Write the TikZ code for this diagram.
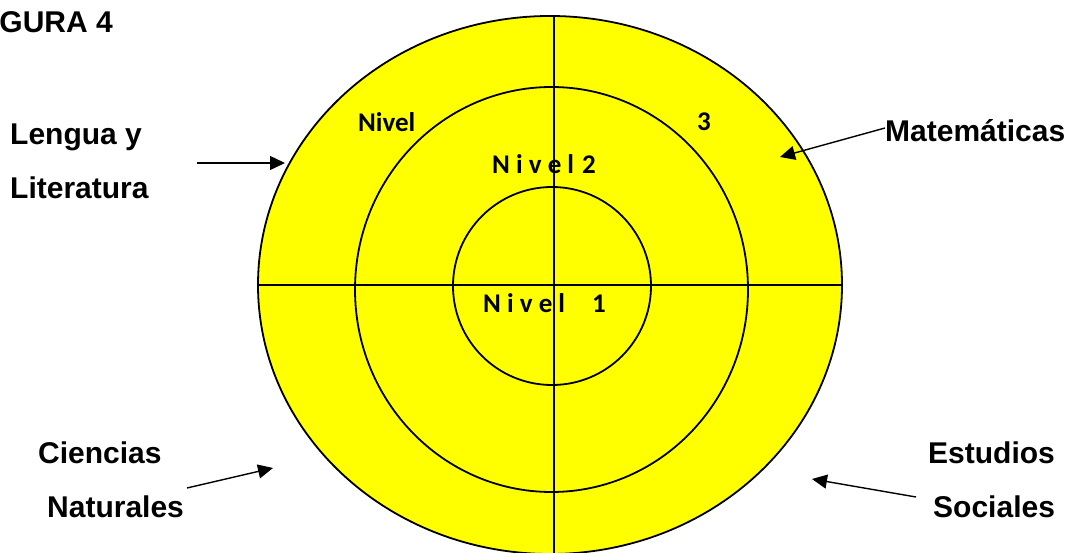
\documentclass[tikz,border=0pt]{standalone}
\usepackage{fontspec}
\setmainfont{Liberation Sans}
\newfontfamily\calibri{Carlito}
\usetikzlibrary{arrows.meta}
\definecolor{areayellow}{RGB}{255,255,0}
\tikzset{
  subject/.style={font=\fontsize{30}{36}\selectfont\bfseries, anchor=base west, inner sep=0pt},
  level/.style={font=\calibri\fontsize{27}{32}\selectfont\bfseries, inner sep=0pt},
  ring/.style={line width=1.8pt},
  pointer/.style={line width=1.4pt, -{Triangle[length=15pt,width=14pt]}}
}
\begin{document}
\begin{tikzpicture}[x=1pt,y=-1pt]
    \useasboundingbox (0,0) rectangle (1074,553);
    \clip (0,0) rectangle (1074,553);
    % rings
    \draw[ring, fill=areayellow] (550,285) ellipse [x radius=292, y radius=269];
    \draw[ring] (551.5,289.5) ellipse [x radius=196.5, y radius=202.5];
    \draw[ring] (552,286) circle [radius=99];
    \draw[ring] (258,285) -- (842,285);
    \draw[ring] (554,16) -- (554,560);
    % levels
    \node[level, anchor=base west] (nivelA) at (358,132) {Nivel};
    \node[level, anchor=base west] (nivelB) at (697,131) {3};
    \node[level, anchor=base] (nivelDos) at (544,174) {N i v e l\hspace{8pt}2};
    \node[level, anchor=base] (nivelUno) at (544.5,313) {N i v e l\quad 1};
    % subjects
    \node[subject, anchor=base east] (figura) at (113,33) {GURA 4};
    \node[subject] (lengua) at (10,145) {Lengua y};
    \node[subject] (literatura) at (10,199) {Literatura};
    \node[subject] (mate) at (885,142) {Matemáticas};
    \node[subject] (ciencias) at (38,463) {Ciencias};
    \node[subject] (naturales) at (47,517) {Naturales};
    \node[subject] (estudios) at (928,463) {Estudios};
    \node[subject] (sociales) at (933,517) {Sociales};
    % arrows
    \coordinate (lenguaTail) at (197,163);
    \coordinate (lenguaTip) at (285,163);
    \coordinate (mateTail) at (885,128);
    \coordinate (mateTip) at (780,157);
    \coordinate (cienTail) at (187,488);
    \coordinate (cienTip) at (273,468);
    \coordinate (estTail) at (916,497);
    \coordinate (estTip) at (812,479);
    \draw[pointer] (lenguaTail) -- (lenguaTip);
    \draw[pointer] (mateTail) -- (mateTip);
    \draw[pointer] (cienTail) -- (cienTip);
    \draw[pointer] (estTail) -- (estTip);
\end{tikzpicture}
\end{document}
